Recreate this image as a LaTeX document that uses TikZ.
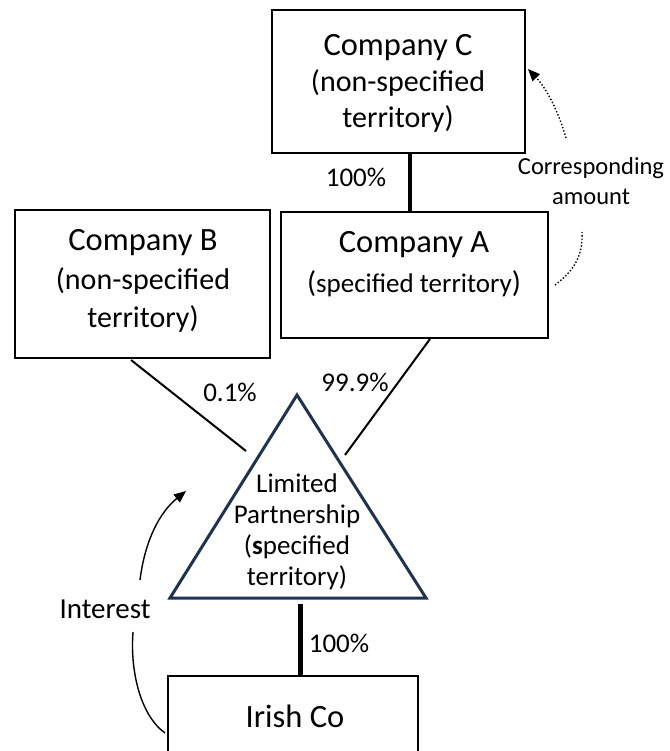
\documentclass[tikz,border=0pt]{standalone}
\usepackage{fontspec}
\setmainfont{Carlito}
\usetikzlibrary{arrows.meta}
\definecolor{navy}{RGB}{31,50,80}
\newcommand{\bigline}{\fontsize{32.5}{36}\selectfont}
\newcommand{\normline}{\fontsize{30}{36}\selectfont}
\begin{document}
\begin{tikzpicture}[x=1pt,y=-1pt,
  box/.style={draw,line width=2pt,inner sep=0pt},
  big/.style={font=\fontsize{30}{36}\selectfont,align=center,inner sep=0pt},
  mid/.style={font=\fontsize{27}{31}\selectfont,align=center,inner sep=0pt},
  lbl/.style={font=\fontsize{27}{30}\selectfont,inner sep=0pt},
  conn/.style={line width=2pt},
  arr/.style={line width=1.4pt,-{Triangle[length=12pt,width=10pt]}},
  dotarr/.style={line width=1.4pt,dotted,-{Triangle[length=12pt,width=10pt]}}]
\useasboundingbox (0,0) rectangle (669,751);
% boxes
\node[box,minimum width=253pt,minimum height=143pt] (C) at (398.5,81.5) {};
\node[big] (Ct) at (398,83) {{\bigline Company C}\\(non-specified\\territory)};
\node[box,minimum width=255pt,minimum height=148pt] (B) at (142.5,284) {};
\node[big,font=\fontsize{30}{38.5}\selectfont] (Bt) at (143,281) {{\bigline Company B}\\(non-specified\\territory)};
\node[box,minimum width=267pt,minimum height=126pt] (A) at (414.5,275) {};
\node[big,font=\fontsize{30}{40}\selectfont] (At) at (414,264) {{\bigline Company A}\\(\fontsize{27}{40}\selectfont specified territory\fontsize{30}{40}\selectfont)};
\node[box,minimum width=250pt,minimum height=94pt] (I) at (293,723) {};
\node[big,font=\bigline] (It) at (295,716) {Irish Co};
% triangle
\coordinate (top) at (297,395);
\coordinate (bl) at (170,598);
\coordinate (br) at (426,598);
\draw[navy,line width=3pt,line join=miter] (top) -- (bl) -- (br) -- cycle;
\node[mid] (LP) at (297,532) {Limited\\Partnership\\(\textbf{s}pecified\\territory)};
% connectors
\coordinate (Bend) at (246,451);
\coordinate (Aend) at (345,455);
\coordinate (Bst) at (131,360);
\coordinate (Ast) at (430,339);
\draw[conn] (Bst) -- (Bend);
\draw[conn] (Ast) -- (Aend);
\draw[line width=3.5pt] (C.south -| 410,0) -- (A.north -| 410,0);
\coordinate (Lbot) at (300,604);
\draw[line width=5pt] (Lbot) -- (I.north -| Lbot);
% labels
\node[lbl] (p1) at (356,177) {100\%};
\node[lbl] (p2) at (230,392) {0.1\%};
\node[lbl] (p3) at (355,382) {99.9\%};
\node[lbl] (p4) at (339,643) {100\%};
\node[lbl,font=\fontsize{29}{30}\selectfont] (int) at (105,609) {Interest};
\node[font=\fontsize{24.5}{30}\selectfont,align=center,inner sep=0pt] (corr) at (591,181) {Corresponding\\amount};
% interest arrow
\coordinate (i1) at (165,733);
\coordinate (i2) at (133,632);
\coordinate (i3) at (140,580);
\coordinate (i4) at (186,491);
\draw[line width=1.4pt] (i1) .. controls (140,715) and (130,670) .. (i2);
\draw[arr] (i3) .. controls (145,540) and (160,512) .. (i4);
% corresponding amount arrow
\coordinate (c1) at (555,285);
\coordinate (c2) at (582,232);
\coordinate (c3) at (566,138);
\coordinate (c4) at (528,69);
\draw[line width=1.4pt,dotted] (c1) .. controls (575,270) and (583,255) .. (c2);
\draw[dotarr] (c3) .. controls (558,110) and (546,88) .. (c4);
\end{tikzpicture}
\end{document}
